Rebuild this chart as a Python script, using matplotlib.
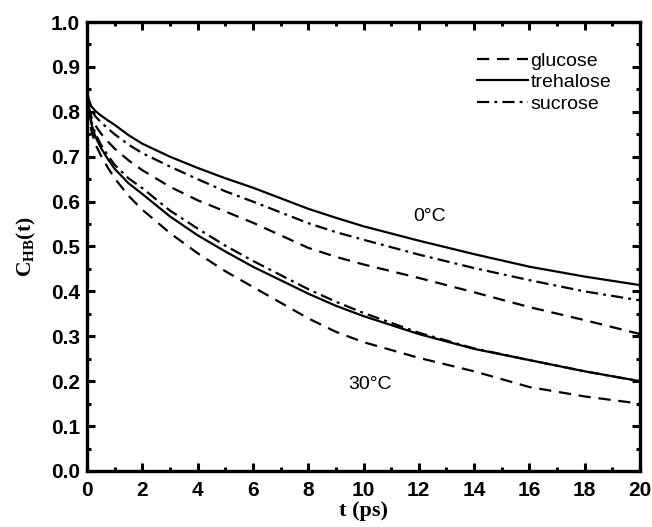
import matplotlib

matplotlib.use("Agg")

import matplotlib.pyplot as plt
import numpy as np
from matplotlib.ticker import MultipleLocator, FormatStrFormatter

# time axis (ps)
t = [0, 0.05, 0.15, 0.3, 0.5, 0.75, 1, 1.5, 2, 3, 4, 5, 6, 8, 9, 10, 12, 14, 16, 18, 20]

# 0 C curves
treh_0 = [0.855, 0.83, 0.813, 0.802, 0.792, 0.781, 0.771, 0.748, 0.729, 0.700, 0.675,
          0.652, 0.631, 0.584, 0.564, 0.545, 0.513, 0.483, 0.455, 0.433, 0.414]
sucr_0 = [0.855, 0.825, 0.805, 0.79, 0.777, 0.763, 0.750, 0.727, 0.708, 0.678, 0.650,
          0.623, 0.600, 0.552, 0.532, 0.515, 0.482, 0.452, 0.425, 0.400, 0.380]
gluc_0 = [0.855, 0.815, 0.79, 0.77, 0.752, 0.734, 0.718, 0.692, 0.670, 0.633, 0.603,
          0.578, 0.553, 0.497, 0.477, 0.460, 0.430, 0.398, 0.365, 0.336, 0.305]

# 30 C curves
treh_30 = [0.855, 0.81, 0.775, 0.745, 0.72, 0.695, 0.673, 0.641, 0.617, 0.567, 0.525,
           0.489, 0.455, 0.395, 0.368, 0.345, 0.305, 0.272, 0.247, 0.222, 0.200]
sucr_30 = [0.855, 0.812, 0.78, 0.752, 0.727, 0.703, 0.682, 0.652, 0.630, 0.580, 0.540,
           0.502, 0.468, 0.405, 0.377, 0.352, 0.308, 0.273, 0.247, 0.222, 0.200]
gluc_30 = [0.855, 0.8, 0.76, 0.728, 0.703, 0.676, 0.652, 0.613, 0.582, 0.530, 0.485,
           0.445, 0.410, 0.340, 0.310, 0.287, 0.252, 0.222, 0.187, 0.166, 0.150]

DASH = (0, (5.5, 3.5))
DASHDOT = (0, (5.5, 2.3, 1.3, 2.3))

plt.rcParams["font.family"] = "Liberation Sans"
plt.rcParams["mathtext.fontset"] = "custom"
plt.rcParams["mathtext.rm"] = "Liberation Serif:bold"
plt.rcParams["mathtext.bf"] = "Liberation Serif:bold"
plt.rcParams["mathtext.it"] = "Liberation Serif:bold"

fig = plt.figure(figsize=(6.52, 5.27), dpi=100)
ax = fig.add_axes([87 / 652, 56 / 527, 553 / 652, 449 / 527])

lw = 1.6
ax.plot(t, gluc_0, color="black", lw=lw, ls=DASH, label="glucose")
ax.plot(t, treh_0, color="black", lw=lw, ls="-", label="trehalose")
ax.plot(t, sucr_0, color="black", lw=lw, ls=DASHDOT, label="sucrose")
ax.plot(t, gluc_30, color="black", lw=lw, ls=DASH)
ax.plot(t, sucr_30, color="black", lw=lw, ls=DASHDOT)
ax.plot(t, treh_30, color="black", lw=lw, ls="-")

ax.text(12.4, 0.566, "0\u00b0C", fontsize=14, ha="center", va="center")
ax.text(10.25, 0.192, "30\u00b0C", fontsize=14, ha="center", va="center")

ax.set_xlim(0, 20)
ax.set_ylim(0, 1.0)
ax.xaxis.set_major_locator(MultipleLocator(2))
ax.xaxis.set_minor_locator(MultipleLocator(1))
ax.yaxis.set_major_locator(MultipleLocator(0.1))
ax.yaxis.set_minor_locator(MultipleLocator(0.05))
ax.yaxis.set_major_formatter(FormatStrFormatter("%.1f"))
ax.tick_params(which="both", direction="in", top=True, right=True, width=2.2)
ax.tick_params(which="major", length=6)
ax.tick_params(which="minor", length=3)
ax.tick_params(axis="x", which="major", pad=7)
ax.tick_params(axis="y", which="major", pad=5)
for lab in ax.get_xticklabels() + ax.get_yticklabels():
    lab.set_fontsize(15)
    lab.set_fontweight("bold")
for sp in ax.spines.values():
    sp.set_linewidth(2.4)

ax.set_xlabel("t (ps)", fontsize=16, fontweight="bold", family="Liberation Serif", labelpad=1)
ax.set_ylabel(r"$\mathbf{C}_{\mathbf{HB}}\mathbf{(t)}$", fontsize=15.5, labelpad=9)

ax.legend(loc="upper left", bbox_to_anchor=(477 / 652, 1 - 52 / 527),
          bbox_transform=fig.transFigure, frameon=False, fontsize=14,
          handlelength=2.6, handletextpad=0.15, labelspacing=0.2,
          borderpad=0, borderaxespad=0)

fig.savefig("out.png", dpi=100)
